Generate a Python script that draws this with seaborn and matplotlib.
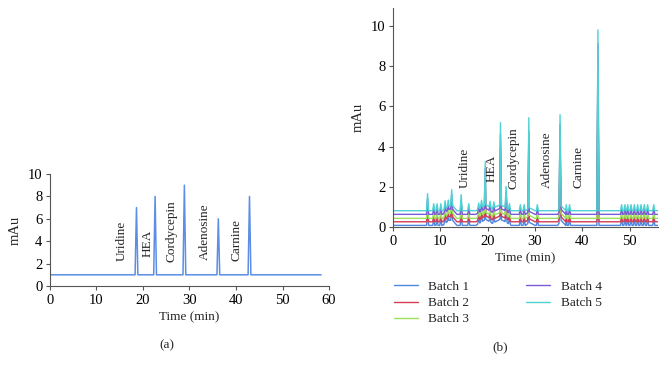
import numpy as np
import pandas as pd
import matplotlib
matplotlib.use("Agg")
import matplotlib.pyplot as plt
import seaborn as sns

# ---- panel (a): single standard chromatogram ----
time_a = [0, 18.3, 18.6, 18.9, 22.3, 22.6, 22.9, 28.6, 28.9, 29.2,
          35.9, 36.2, 36.5, 42.6, 42.9, 43.2, 58.3]
mau_a = [1, 1, 7, 1, 1, 8, 1, 1, 9, 1, 1, 6, 1, 1, 8, 1, 1]

labels_a = ["Uridine", "HEA", "Cordycepin", "Adenosine", "Carnine"]
label_x_a = [15.4, 21.1, 26.2, 33.3, 40.1]
label_y_a = [2.2, 2.6, 2.15, 2.3, 2.25]

# ---- panel (b): five batches ----
batches = ["Batch 1", "Batch 2", "Batch 3", "Batch 4", "Batch 5"]
batch_colors = ["#4f86e0", "#d23c55", "#9fe05c", "#7b5ad6", "#4fd2d4"]
batch_offset = [0.08, 0.26, 0.43, 0.63, 0.81]

# baseline drift (common to all batches)
base_t = [0, 6.5, 10.5, 11.8, 12.6, 13.5, 17.5, 19.6, 21.0, 22.6, 23.6,
          25.0, 28.0, 28.8, 30.0, 34.8, 35.5, 36.5, 47.5, 56]
base_rise = [0, 0, 0, 0.25, 0.25, 0, 0, 0.3, 0.1, 0.3, 0.2,
             0, 0, 0.15, 0, 0, 0.25, 0, 0, 0]

peak_t = [7.3, 8.6, 9.3, 10.1, 11.0, 11.7, 12.4, 14.4, 16.0, 18.1, 18.7,
          19.5, 20.5, 21.3, 22.7, 23.9, 24.6, 26.9, 27.7, 28.7, 30.5,
          35.3, 36.6, 37.3, 43.3, 48.3, 49.0, 49.6, 50.3, 51.0, 51.7,
          52.4, 53.1, 53.8, 55.1]
# peak size above the local baseline, per batch
peak_b1 = [0.7, 0.3, 0.3, 0.3, 0.35, 0.3, 0.6, 0.5, 0.3, 0.3, 0.35,
           1.5, 0.3, 0.3, 3.0, 0.8, 0.3, 0.3, 0.3, 2.7, 0.3,
           3.4, 0.3, 0.3, 7.0, 0.3, 0.3, 0.3, 0.3, 0.3, 0.3,
           0.3, 0.3, 0.3, 0.3]
peak_b2 = [0.75, 0.3, 0.3, 0.3, 0.35, 0.3, 0.65, 0.55, 0.3, 0.3, 0.35,
           1.7, 0.3, 0.3, 3.3, 0.85, 0.3, 0.3, 0.3, 3.2, 0.3,
           3.7, 0.3, 0.3, 7.6, 0.3, 0.3, 0.3, 0.3, 0.3, 0.3,
           0.3, 0.3, 0.3, 0.3]
peak_b3 = [0.8, 0.3, 0.3, 0.3, 0.4, 0.3, 0.7, 0.65, 0.3, 0.3, 0.35,
           1.8, 0.3, 0.3, 3.5, 0.9, 0.3, 0.3, 0.3, 3.6, 0.3,
           4.0, 0.3, 0.3, 8.0, 0.3, 0.3, 0.3, 0.3, 0.3, 0.3,
           0.3, 0.3, 0.3, 0.3]
peak_b4 = [0.8, 0.35, 0.35, 0.35, 0.4, 0.3, 0.75, 0.7, 0.35, 0.3, 0.35,
           2.0, 0.3, 0.3, 3.7, 0.95, 0.3, 0.3, 0.3, 4.0, 0.3,
           4.3, 0.3, 0.3, 8.5, 0.3, 0.3, 0.3, 0.3, 0.3, 0.3,
           0.3, 0.3, 0.3, 0.3]
peak_b5 = [0.85, 0.35, 0.35, 0.35, 0.4, 0.3, 0.8, 0.8, 0.35, 0.3, 0.35,
           2.15, 0.3, 0.3, 4.1, 1.05, 0.3, 0.3, 0.3, 4.5, 0.3,
           4.6, 0.3, 0.3, 9.0, 0.3, 0.3, 0.3, 0.3, 0.3, 0.3,
           0.3, 0.3, 0.3, 0.3]
peak_sizes = [peak_b1, peak_b2, peak_b3, peak_b4, peak_b5]

labels_b = ["Uridine", "HEA", "Cordycepin", "Adenosine", "Carnine"]
label_x_b = [15.2, 20.8, 25.4, 32.6, 39.2]
label_y_b = [1.95, 2.25, 1.9, 1.95, 1.95]

half_w = 0.22

rows = []
for name, off, sizes in zip(batches, batch_offset, peak_sizes):
    pts = [(t, off + r) for t, r in zip(base_t, base_rise)]
    for t, s in zip(peak_t, sizes):
        b = off + np.interp(t, base_t, base_rise)
        for tt in (t - half_w, t + half_w):
            pts.append((tt, off + np.interp(tt, base_t, base_rise)))
        pts.append((t, b + s))
    pts.sort()
    for t, v in pts:
        rows.append({"time": t, "mau": v, "batch": name})
df_b = pd.DataFrame(rows)

# ---- style ----
sns.set_style("ticks")
plt.rcParams["font.family"] = ["Liberation Serif", "DejaVu Serif"]
plt.rcParams["axes.edgecolor"] = "#555555"
plt.rcParams["xtick.color"] = "#555555"
plt.rcParams["ytick.color"] = "#555555"
plt.rcParams["xtick.labelcolor"] = "black"
plt.rcParams["ytick.labelcolor"] = "black"

fig = plt.figure(figsize=(6.62, 3.72), dpi=100)
ax_a = fig.add_axes([0.0755, 0.2312, 0.4215, 0.3010])
ax_b = fig.add_axes([0.5937, 0.3898, 0.4003, 0.5887])

# panel (a)
sns.lineplot(x=time_a, y=mau_a, ax=ax_a, color="#5b8ee4", linewidth=1.1,
             estimator=None, sort=False)
ax_a.set_xlim(0, 60)
ax_a.set_ylim(0, 10)
ax_a.set_xticks(range(0, 61, 10))
ax_a.set_yticks(range(0, 11, 2))
ax_a.set_xlabel("Time (min)", fontsize=9.5)
ax_a.set_ylabel("mAu", fontsize=10.5)
for lab, x, y in zip(labels_a, label_x_a, label_y_a):
    ax_a.text(x, y, lab, rotation=90, ha="center", va="bottom", fontsize=9.5)

# panel (b)
sns.lineplot(data=df_b, x="time", y="mau", hue="batch", ax=ax_b,
             palette=dict(zip(batches, batch_colors)), linewidth=1.0,
             estimator=None, sort=False)
ax_b.set_xlim(0, 56)
ax_b.set_ylim(0, 10.9)
ax_b.set_xticks(range(0, 51, 10))
ax_b.set_yticks(range(0, 11, 2))
ax_b.set_xlabel("Time (min)", fontsize=9.5)
ax_b.set_ylabel("mAu", fontsize=10.5)
for lab, x, y in zip(labels_b, label_x_b, label_y_b):
    ax_b.text(x, y, lab, rotation=90, ha="center", va="bottom", fontsize=9.5)

handles, leg_labels = ax_b.get_legend_handles_labels()
ax_b.get_legend().remove()
fig.legend(handles, leg_labels, ncol=2, frameon=False, fontsize=9.5,
           loc="center", bbox_to_anchor=(0.752, 1 - 303 / 372),
           handlelength=1.8, handletextpad=0.8, columnspacing=4.3,
           labelspacing=0.3)

for ax in (ax_a, ax_b):
    sns.despine(ax=ax)
    ax.tick_params(labelsize=10.5, length=3, width=0.8, pad=2.5)
    ax.xaxis.labelpad = 3
    ax.yaxis.labelpad = 4

fig.text(167 / 662, 1 - 345 / 372, "(a)", ha="center", va="center", fontsize=9.5)
fig.text(500 / 662, 1 - 347 / 372, "(b)", ha="center", va="center", fontsize=9.5)

fig.savefig("out.png", dpi=100)
